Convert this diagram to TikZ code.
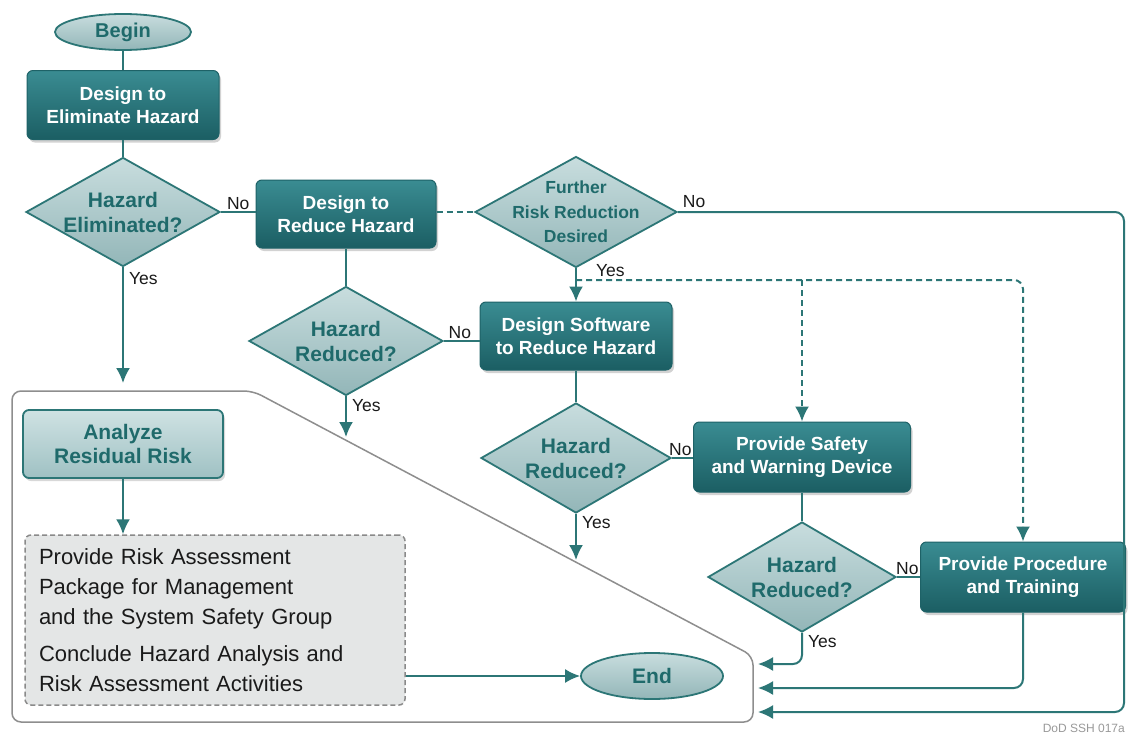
\documentclass[tikz,border=0pt]{standalone}
\usepackage{fontspec}
\setmainfont{Liberation Sans}
\usetikzlibrary{shapes.geometric,arrows.meta,shadows,calc}
\definecolor{tealline}{HTML}{2C7676}
\definecolor{boxtop}{HTML}{3A8C92}
\definecolor{boxbot}{HTML}{1B5E63}
\definecolor{boxedge}{HTML}{1E6267}
\definecolor{dtop}{HTML}{C8DDDE}
\definecolor{dbot}{HTML}{93B6B8}
\definecolor{dtext}{HTML}{1F6A6B}
\definecolor{antop}{HTML}{CFE2E3}
\definecolor{anbot}{HTML}{9FC1C3}
\definecolor{regiongray}{HTML}{8E8E8E}
\definecolor{dboxfill}{HTML}{E4E6E6}
\definecolor{dboxdraw}{HTML}{8A8A8A}
\definecolor{lbltext}{HTML}{1A1A1A}
\begin{document}
\begin{tikzpicture}[x=1pt,y=-1pt,
  conn/.style={draw=tealline, line width=2pt},
  dashconn/.style={draw=tealline, line width=2pt, dash pattern=on 6pt off 4pt},
  arr/.style={-{Latex[length=15pt,width=14pt]}},
  procbox/.style={rectangle, rounded corners=6pt, draw=boxedge, line width=1pt,
    top color=boxtop, bottom color=boxbot, text=white, align=center, inner sep=0pt,
    font=\bfseries\fontsize{19}{23}\selectfont,
    drop shadow={opacity=0.35, shadow xshift=2pt, shadow yshift=-3pt}},
  decision/.style={diamond, draw=tealline, line width=1.8pt, top color=dtop, bottom color=dbot,
    text=dtext, align=center, inner sep=-6pt, shape aspect=1.78,
    font=\bfseries\fontsize{21}{25}\selectfont},
  startend/.style={ellipse, draw=tealline, line width=1.8pt, top color=dtop, bottom color=dbot,
    text=dtext, inner sep=0pt, font=\bfseries\fontsize{20}{24}\selectfont},
  lbl/.style={text=lbltext, inner sep=1pt, font=\fontsize{17.5}{20}\selectfont}
]
\useasboundingbox (0,0) rectangle (1128,736);
\fill[white] (0,0) rectangle (1128,736);

% region of residual risk
\draw[regiongray, line width=1.5pt, fill=white, rounded corners=9pt]
  (12,391) -- (253,391) -- (753,656) -- (753,722) -- (12,722) -- cycle;

% nodes
\node[startend, minimum width=136pt, minimum height=36pt] (begin) at (123,32) {Begin};
\node[procbox, minimum width=192pt, minimum height=69pt] (elim) at (123,105) {Design to\\Eliminate Hazard};
\node[decision, minimum width=194pt, minimum height=109pt] (dElim) at (123,212) {Hazard\\Eliminated?};
\node[procbox, minimum width=180pt, minimum height=68pt] (red) at (346,214) {Design to\\Reduce Hazard};
\node[decision, minimum width=202pt, minimum height=111pt, inner sep=-10pt, shape aspect=1.82,
  font=\bfseries\fontsize{17.5}{24.5}\selectfont] (dFur) at (576,212) {Further\\Risk Reduction\\Desired};
\node[procbox, minimum width=192pt, minimum height=68pt] (soft) at (576,336) {Design Software\\to Reduce Hazard};
\node[decision, minimum width=194pt, minimum height=109pt] (dR1) at (346,341) {Hazard\\Reduced?};
\node[decision, minimum width=190pt, minimum height=110pt] (dR2) at (576,458) {Hazard\\Reduced?};
\node[procbox, minimum width=217pt, minimum height=70pt] (safety) at (802,457) {Provide Safety\\and Warning Device};
\node[decision, minimum width=188pt, minimum height=110pt] (dR3) at (802,577) {Hazard\\Reduced?};
\node[procbox, minimum width=205pt, minimum height=70pt] (proc) at (1023,577) {Provide Procedure\\and Training};
\node[rectangle, rounded corners=6pt, draw=tealline, line width=1.8pt, top color=antop, bottom color=anbot,
  text=dtext, align=center, inner sep=0pt, minimum width=200pt, minimum height=68pt,
  font=\bfseries\fontsize{21}{24}\selectfont,
  drop shadow={opacity=0.3, shadow xshift=2pt, shadow yshift=-3pt}] (analyze) at (123,444) {Analyze\\Residual Risk};
\node[rectangle, rounded corners=6pt, draw=dboxdraw, line width=1.5pt, dash pattern=on 5pt off 3pt,
  fill=dboxfill, text=lbltext, align=left, text width=352pt, inner xsep=14pt, inner ysep=0pt,
  minimum height=170pt, font=\fontsize{22}{30}\selectfont] (dbox) at (215,620)
  {Provide Risk Assessment\\Package for Management\\and the System Safety Group\\[7pt]Conclude Hazard Analysis and\\Risk Assessment Activities};
\node[startend, minimum width=142pt, minimum height=46pt, font=\bfseries\fontsize{21}{24}\selectfont] (endn) at (652,676) {End};
\node[anchor=base east, text=black!40, inner sep=0pt, font=\fontsize{12}{13}\selectfont] (dod) at (1125,732) {DoD SSH 017a};

% free ends
\coordinate (a1) at (123,383);
\coordinate (a2) at (346,437);
\coordinate (a3) at (576,560);
\coordinate (in1) at (758,664);
\coordinate (in2) at (758,688);
\coordinate (in3) at (758,712);
\coordinate (rc) at (1124,212);
\coordinate (ds) at (576,280);
\coordinate (dc) at (802,280);

% connectors
\draw[conn] (begin) -- (elim);
\draw[conn] (elim) -- (dElim);
\draw[conn] (dElim.east) -- node[lbl, above, pos=0.5]{No} (dElim.east -| red.west);
\draw[dashconn] (red.east |- dFur.west) -- (dFur.west);
\draw[conn, arr] (dElim.south) node[lbl, anchor=north west, xshift=4pt, yshift=-3pt]{Yes} -- (a1);
\draw[conn, arr] (dFur.south) node[lbl, anchor=north west, xshift=18pt, yshift=6pt]{Yes} -- (soft.north);
\draw[conn, arr, rounded corners=9pt] (dFur.east) node[lbl, anchor=south west, xshift=3pt, yshift=2pt]{No}
  -- (dFur.east -| rc) -- (rc |- in3) -- (in3);
\draw[dashconn, arr, rounded corners=9pt] (ds) -- (ds -| proc.north) -- (proc.north);
\draw[dashconn, arr] (dc) -- (safety.north);
\draw[conn] (red) -- (dR1);
\draw[conn] (dR1.east) -- node[lbl, above, pos=0.45]{No} (dR1.east -| soft.west);
\draw[conn, arr] (dR1.south) node[lbl, anchor=north west, xshift=4pt, yshift=-1pt]{Yes} -- (a2);
\draw[conn] (soft) -- (dR2);
\draw[conn] (dR2.east) -- node[lbl, above, pos=0.4]{No} (dR2.east -| safety.west);
\draw[conn, arr] (dR2.south) node[lbl, anchor=north west, xshift=4pt, yshift=-1pt]{Yes} -- (a3);
\draw[conn] (safety) -- (dR3);
\draw[conn] (dR3.east) -- node[lbl, above, pos=0.45]{No} (dR3.east -| proc.west);
\draw[conn, arr, rounded corners=9pt] (dR3.south) node[lbl, anchor=north west, xshift=4pt, yshift=-1pt]{Yes}
  -- (dR3.south |- in1) -- (in1);
\draw[conn, arr, rounded corners=9pt] (proc.south) -- (proc.south |- in2) -- (in2);
\draw[conn, arr] (analyze.south) -- (analyze.south |- dbox.north);
\draw[conn, arr] (dbox.east |- endn.west) -- (endn.west);
\end{tikzpicture}
\end{document}
